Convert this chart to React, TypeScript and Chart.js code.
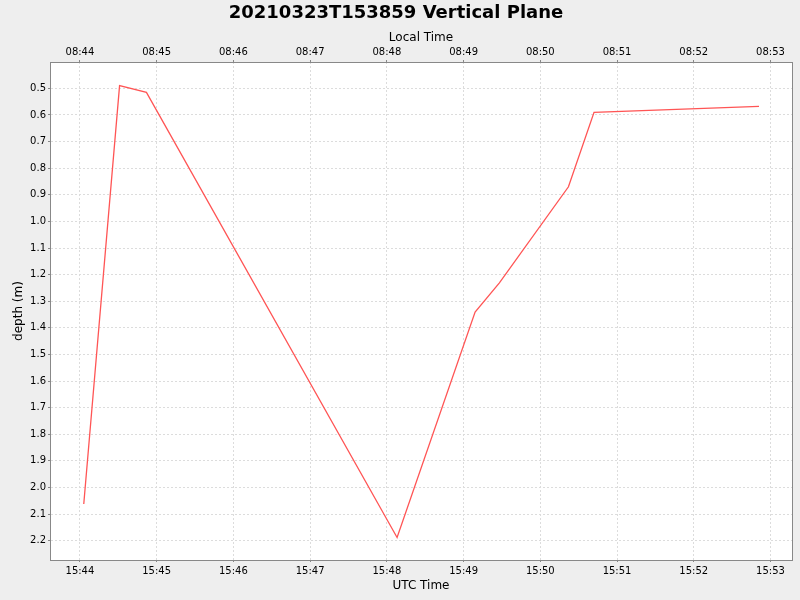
import { useEffect, useRef } from "react";
import Chart from "chart.js/auto";

const TITLE = "20210323T153859 Vertical Plane";

// sample times (UTC) and depths
const sampleTimes = [
  "15:44:03",
  "15:44:31",
  "15:44:52",
  "15:48:08",
  "15:49:09",
  "15:49:28",
  "15:50:22",
  "15:50:42",
  "15:52:51",
];
const depths = [2.062, 0.49, 0.515, 2.188, 1.341, 1.231, 0.87, 0.59, 0.568];

const utcTicks = ["15:44", "15:45", "15:46", "15:47", "15:48", "15:49", "15:50", "15:51", "15:52", "15:53"];
const localTicks = ["08:44", "08:45", "08:46", "08:47", "08:48", "08:49", "08:50", "08:51", "08:52", "08:53"];
const depthTicks = [0.5, 0.6, 0.7, 0.8, 0.9, 1.0, 1.1, 1.2, 1.3, 1.4, 1.5, 1.6, 1.7, 1.8, 1.9, 2.0, 2.1, 2.2];

const toMin = (s: string) => {
  const [h, m, sec] = s.split(":").map(Number);
  return h * 60 + m + (sec || 0) / 60;
};
const base = toMin(utcTicks[0]);

const FONT = "'DejaVu Sans', sans-serif";
const GRID = "#dcdcdc";
const AXIS = "#888888";

const plotFrame = {
  id: "plotFrame",
  beforeDraw(chart: any) {
    const { ctx, chartArea } = chart;
    ctx.save();
    ctx.fillStyle = "#ffffff";
    ctx.fillRect(chartArea.left, chartArea.top, chartArea.right - chartArea.left, chartArea.bottom - chartArea.top);
    ctx.restore();
  },
  afterDraw(chart: any) {
    const { ctx, chartArea } = chart;
    ctx.save();
    ctx.strokeStyle = AXIS;
    ctx.lineWidth = 1;
    ctx.strokeRect(
      Math.round(chartArea.left) + 0.5,
      Math.round(chartArea.top) + 0.5,
      Math.round(chartArea.right - chartArea.left),
      Math.round(chartArea.bottom - chartArea.top)
    );
    ctx.restore();
  },
};

const App = () => {
  const chartRef = useRef<HTMLCanvasElement>(null);

  useEffect(() => {
    if (!chartRef.current) return;

    const points = sampleTimes.map((t, i) => ({ x: toMin(t) - base, y: depths[i] }));
    const minuteTicks = utcTicks.map((t) => ({ value: toMin(t) - base }));

    const chartInstance = new Chart(chartRef.current, {
      type: "line",
      data: {
        datasets: [
          {
            label: "depth",
            data: points,
            borderColor: "#ff5555",
            borderWidth: 1.3,
            pointRadius: 0,
            tension: 0,
            xAxisID: "x",
            yAxisID: "y",
          },
        ],
      },
      options: {
        responsive: false,
        animation: false,
        devicePixelRatio: 1,
        layout: { padding: { left: 0, right: 8, top: 0, bottom: 0 } },
        plugins: {
          legend: { display: false },
          tooltip: { enabled: false },
          title: {
            display: true,
            text: TITLE,
            color: "#000",
            font: { family: FONT, size: 18, weight: "bold", lineHeight: 1.2 },
            padding: { top: 3, bottom: 0 },
          },
        },
        scales: {
          x: {
            type: "linear",
            position: "bottom",
            min: -0.39,
            max: 9.28,
            afterBuildTicks: (axis: any) => {
              axis.ticks = minuteTicks.map((t) => ({ ...t }));
            },
            afterFit: (axis: any) => {
              axis.height = 40;
            },
            ticks: {
              color: "#000",
              font: { family: FONT, size: 10 },
              padding: 3,
              maxRotation: 0,
              autoSkip: false,
              callback: (_v: any, i: number) => utcTicks[i],
            },
            grid: { color: GRID, tickLength: 2, tickColor: AXIS, tickBorderDash: [] },
            border: { color: AXIS, dash: [2, 2] },
            title: {
              display: true,
              text: "UTC Time",
              color: "#000",
              font: { family: FONT, size: 12, lineHeight: 1.2 },
              padding: { top: 0, bottom: 7 },
            },
          },
          x2: {
            type: "linear",
            position: "top",
            min: -0.39,
            max: 9.28,
            afterBuildTicks: (axis: any) => {
              axis.ticks = minuteTicks.map((t) => ({ ...t }));
            },
            afterFit: (axis: any) => {
              axis.height = 62 - 24.6;
            },
            ticks: {
              color: "#000",
              font: { family: FONT, size: 10 },
              padding: 2,
              maxRotation: 0,
              autoSkip: false,
              callback: (_v: any, i: number) => localTicks[i],
            },
            grid: { drawOnChartArea: false, tickLength: 2, tickColor: AXIS },
            border: { color: AXIS },
            title: {
              display: true,
              text: "Local Time",
              color: "#000",
              font: { family: FONT, size: 12, lineHeight: 1.2 },
              padding: { top: 6, bottom: 0 },
            },
          },
          y: {
            type: "linear",
            reverse: true,
            min: 0.401,
            max: 2.2725,
            afterBuildTicks: (axis: any) => {
              axis.ticks = depthTicks.map((v) => ({ value: v }));
            },
            afterFit: (axis: any) => {
              axis.width = 50;
            },
            ticks: {
              color: "#000",
              font: { family: FONT, size: 10 },
              padding: 2,
              autoSkip: false,
              callback: (v: any) => Number(v).toFixed(1),
            },
            grid: { color: GRID, tickLength: 2, tickColor: AXIS, tickBorderDash: [] },
            border: { color: AXIS, dash: [2, 2] },
            title: {
              display: true,
              text: "depth (m)",
              color: "#000",
              font: { family: FONT, size: 12, lineHeight: 1.2 },
              padding: { top: 12, bottom: 0 },
            },
          },
        },
      },
      plugins: [plotFrame],
    } as any);

    return () => {
      chartInstance.destroy();
    };
  }, []);

  return (
    <div style={{ position: "fixed", left: 0, top: 0, width: 800, height: 600, background: "#eeeeee" }}>
      <canvas ref={chartRef} width={800} height={600}></canvas>
    </div>
  );
};

export default App;
